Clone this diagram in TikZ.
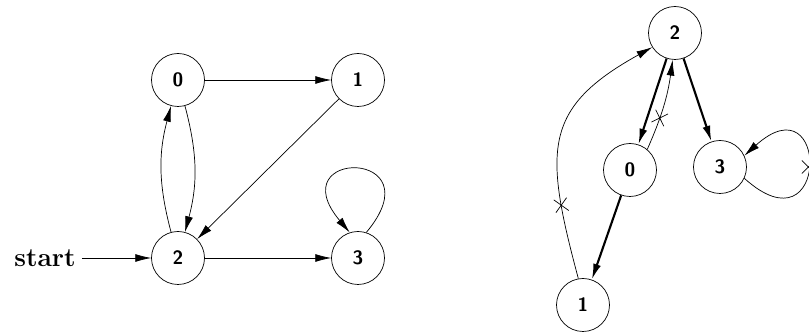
\documentclass[tikz,border=0pt]{standalone}
\usepackage{tikz}
\usetikzlibrary{positioning,arrows.meta,shapes.misc}

\begin{document}
\begin{tikzpicture}[
  state/.style={draw, circle, thin, minimum size=1.06cm, inner sep=0pt,
    font=\fontsize{11}{13}\selectfont\sffamily\bfseries},
  arr/.style={-{Latex[length=9pt,width=4.5pt]}, thin},
  tree/.style={-{Latex[length=9pt,width=4.5pt]}, line width=1.2pt},
  xmark/.style={draw, cross out, thin, minimum size=7pt, inner sep=0pt, sloped},
]
\useasboundingbox (0,0) rectangle (16.18,6.70);

% first graph
\node[state] at ( 3.56, 5.10) (A0) {0};
\node[state] at ( 7.16, 5.10) (A1) {1};
\node[state] at ( 3.56, 1.54) (A2) {2};
\node[state] at ( 7.16, 1.54) (A3) {3};
\node[font=\fontsize{15}{17}\selectfont\bfseries] at (0.90,1.54) (start) {start};

\draw[arr] (start.east) -- (A2.west);
\draw[arr] (A0.east)    -- (A1.west);
\draw[arr] (A2) to[bend left=15] (A0);
\draw[arr] (A0) to[bend left=15] (A2);
\draw[arr] (A1) -- (A2);
\draw[arr] (A2.east)    -- (A3.west);
\draw[arr] (A3.72) to[out=50,in=130,min distance=2.2cm] (A3.108);

% second graph
\node[state] at (13.50, 6.04) (B2) {2};
\node[state] at (12.60, 3.30) (B0) {0};
\node[state] at (14.40, 3.36) (B3) {3};
\node[state] at (11.66, 0.60) (B1) {1};

\draw[tree] (B2) -- (B0);
\draw[tree] (B2) -- (B3);
\draw[tree] (B0) -- (B1);
\draw[arr] (B0.50) to[bend right=8] node[xmark, pos=0.35] {} (B2.265);
\draw[arr] (B1.100) to[out=105,in=209,out looseness=1.4,in looseness=1.32]
  node[xmark, pos=0.22] {} (B2.212);
\draw[arr] (B3.-25) to[out=-42,in=42,min distance=2.3cm] node[xmark, pos=0.5] {} (B3.25);
\end{tikzpicture}
\end{document}
